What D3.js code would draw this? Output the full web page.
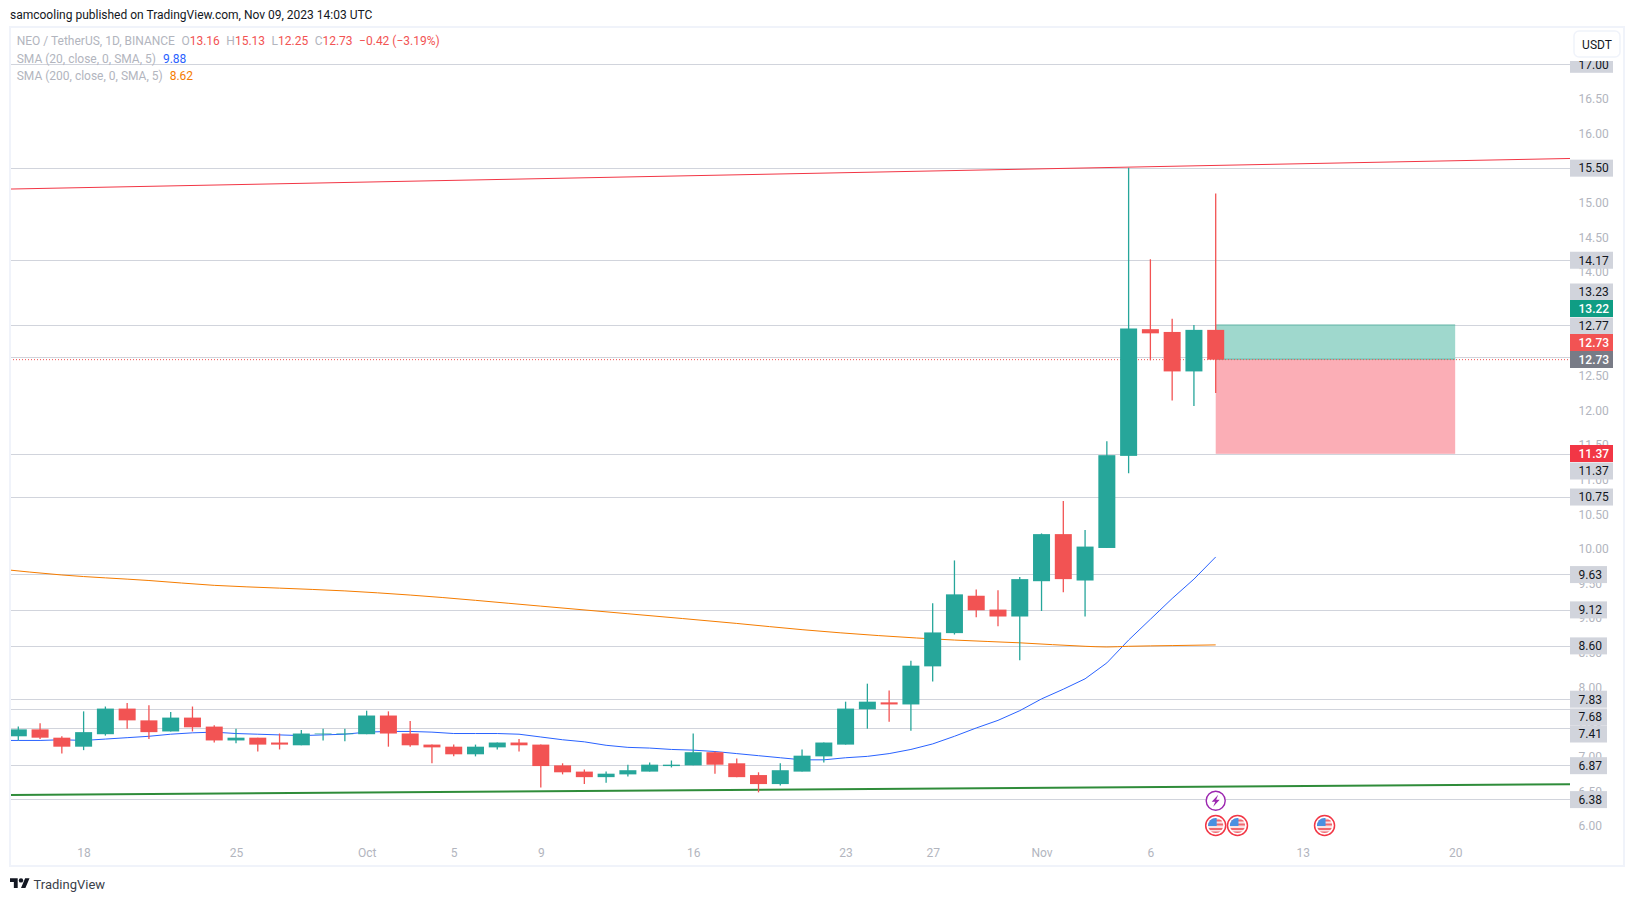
<!DOCTYPE html>
<html>
<head>
<meta charset="utf-8">
<script src="https://cdn.jsdelivr.net/npm/d3@7"></script>
<style>
    html, body { margin: 0; padding: 0; background: #fff; }
    svg { display: block; }
    text { font-family: Roboto, sans-serif; }
</style>
</head>
<body>
<div id="chart"></div>
<script>
// Daily candles, Sep 15 to Nov 9 2023
const opens = [7.29, 7.39, 7.27, 7.14, 7.32, 7.69, 7.52, 7.36, 7.56, 7.43, 7.23, 7.27, 7.20, 7.16, 7.32, 7.32, 7.32, 7.59, 7.33, 7.17, 7.14, 7.03, 7.13, 7.20, 7.17, 6.87, 6.78, 6.70, 6.74, 6.78, 6.86, 6.87, 7.06, 6.90, 6.73, 6.60, 6.78, 7.00, 7.17, 7.68, 7.78, 7.75, 8.30, 8.78, 9.32, 9.12, 9.02, 9.53, 10.21, 9.54, 10.01, 11.34, 13.17, 13.13, 12.56, 13.16];
const highs = [7.43, 7.48, 7.29, 7.65, 7.72, 7.77, 7.74, 7.64, 7.72, 7.45, 7.40, 7.27, 7.33, 7.38, 7.40, 7.40, 7.66, 7.65, 7.51, 7.17, 7.17, 7.17, 7.20, 7.25, 7.17, 6.90, 6.81, 6.78, 6.88, 6.91, 6.94, 7.33, 7.07, 6.97, 6.77, 6.90, 7.10, 7.20, 7.79, 8.05, 7.95, 8.38, 9.21, 9.83, 9.41, 9.40, 9.59, 10.22, 10.69, 10.27, 11.55, 15.50, 14.18, 13.32, 13.23, 15.13];
const lows = [7.23, 7.25, 7.04, 7.09, 7.30, 7.40, 7.25, 7.36, 7.36, 7.20, 7.19, 7.07, 7.10, 7.16, 7.23, 7.22, 7.32, 7.14, 7.14, 6.90, 7.00, 7.00, 7.10, 7.07, 6.55, 6.74, 6.60, 6.62, 6.71, 6.78, 6.84, 6.87, 6.75, 6.70, 6.48, 6.58, 6.78, 6.91, 7.17, 7.40, 7.50, 7.37, 8.08, 8.76, 9.01, 8.88, 8.39, 9.10, 9.37, 9.02, 10.01, 11.09, 12.72, 12.14, 12.06, 12.25];
const closes = [7.39, 7.27, 7.14, 7.35, 7.69, 7.52, 7.35, 7.56, 7.42, 7.23, 7.27, 7.17, 7.17, 7.33, 7.33, 7.33, 7.59, 7.33, 7.16, 7.13, 7.03, 7.14, 7.20, 7.16, 6.86, 6.77, 6.70, 6.75, 6.80, 6.88, 6.88, 7.06, 6.88, 6.70, 6.60, 6.80, 7.01, 7.20, 7.69, 7.79, 7.75, 8.31, 8.79, 9.34, 9.11, 9.02, 9.56, 10.21, 9.56, 10.03, 11.35, 13.18, 13.11, 12.56, 13.16, 12.73];

// SMA 20, daily from Sep 14
const sma20 = [7.23, 7.23, 7.23, 7.24, 7.23, 7.25, 7.27, 7.29, 7.32, 7.34, 7.35, 7.33, 7.32, 7.31, 7.30, 7.31, 7.32, 7.35, 7.36, 7.36, 7.35, 7.33, 7.33, 7.33, 7.32, 7.28, 7.24, 7.21, 7.16, 7.13, 7.12, 7.10, 7.09, 7.07, 7.04, 7.01, 6.98, 6.95, 6.95, 6.98, 7.00, 7.04, 7.10, 7.18, 7.29, 7.41, 7.52, 7.66, 7.83, 7.97, 8.12, 8.35, 8.68, 8.98, 9.28, 9.56, 9.88];

// SMA 200, read at these dates
const sma200Dates = ["2023-09-14", "2023-09-17", "2023-09-21", "2023-09-24", "2023-09-27", "2023-09-30", "2023-10-03", "2023-10-09", "2023-10-13", "2023-10-18", "2023-10-21", "2023-10-28", "2023-10-31", "2023-11-03", "2023-11-04", "2023-11-05", "2023-11-07", "2023-11-09"];
const sma200 = [9.71, 9.62, 9.54, 9.47, 9.43, 9.39, 9.33, 9.17, 9.06, 8.92, 8.83, 8.68, 8.64, 8.59, 8.58, 8.59, 8.60, 8.61];

// Trend lines
const trendDates = ["2023-09-14", "2023-11-26"];
const resistance = [15.19, 15.64];
const support = [6.44, 6.60];

// Horizontal lines
const levels = [17.00, 15.50, 14.17, 13.23, 12.77, 11.37, 10.75, 9.63, 9.12, 8.60, 7.83, 7.68, 7.41, 6.87, 6.38];

// Axis labels
const priceTicks = [6, 6.5, 7, 7.5, 8, 8.5, 9, 9.5, 10, 10.5, 11, 11.5, 12, 12.5, 13, 13.5, 14, 14.5, 15, 15.5, 16, 16.5, 17];
const dateTicks = ["2023-09-18", "2023-09-25", "2023-10-01", "2023-10-05", "2023-10-09", "2023-10-16", "2023-10-23", "2023-10-27", "2023-11-01", "2023-11-06", "2023-11-13", "2023-11-20"];
const dateLabels = ["18", "25", "Oct", "5", "9", "16", "23", "27", "Nov", "6", "13", "20"];

// Position tool
const positionDates = ["2023-11-09", "2023-11-20"];
const positionTarget = 13.23;
const positionEntry = 12.73;
const positionStop = 11.37;

// Events under the candles
const earningsDates = ["2023-11-09"];
const flagDates = ["2023-11-09", "2023-11-10", "2023-11-14"];

const parseDay = d3.utcParse("%Y-%m-%d");
const up = "#26a69a";
const down = "#f25353";
const gridColor = "#d1d4dc";
const mutedText = "#b2b5be";
const darkText = "#131722";
const fontFamily = "Roboto, sans-serif";

const svg = d3.select("#chart")
    .append("svg")
    .attr("width", 1634)
    .attr("height", 901)
    .style("font-size", "12px");

const x = d3.scaleUtc()
    .domain([parseDay("2023-09-15"), parseDay("2023-11-09")])
    .range([18.3, 1215.7]);

const y = d3.scaleLinear()
    .domain([6.38, 17])
    .range([799.3, 64]);

const plotRight = 1570;

svg.append("text")
    .attr("x", 10)
    .attr("y", 19)
    .attr("fill", darkText)
    .text("samcooling published on TradingView.com, Nov 09, 2023 14:03 UTC");

svg.append("clipPath").attr("id", "plot")
    .append("rect")
    .attr("x", 10).attr("y", 27)
    .attr("width", plotRight - 10).attr("height", 839);

const plot = svg.append("g").attr("clip-path", "url(#plot)");

// Grid
plot.selectAll(".level")
    .data(levels)
    .enter().append("line")
    .attr("class", "level")
    .attr("x1", 10)
    .attr("x2", plotRight)
    .attr("y1", d => Math.round(y(d)) + 0.5)
    .attr("y2", d => Math.round(y(d)) + 0.5)
    .attr("stroke", gridColor);

// Position tool
const posX0 = x(parseDay(positionDates[0]));
const posX1 = x(parseDay(positionDates[1]));
plot.append("rect")
    .attr("x", posX0).attr("y", y(positionTarget))
    .attr("width", posX1 - posX0).attr("height", y(positionEntry) - y(positionTarget))
    .attr("fill", "#9fd8cd");
plot.append("rect")
    .attr("x", posX0).attr("y", y(positionEntry))
    .attr("width", posX1 - posX0).attr("height", y(positionStop) - y(positionEntry))
    .attr("fill", "#fbaeb6");
plot.append("line")
    .attr("x1", posX0).attr("x2", posX1)
    .attr("y1", y(positionTarget)).attr("y2", y(positionTarget))
    .attr("stroke", "#5fb3a5");
plot.append("line")
    .attr("x1", posX0).attr("x2", posX1)
    .attr("y1", y(positionEntry) - 0.5).attr("y2", y(positionEntry) - 0.5)
    .attr("stroke", "#5fb3a5");

// Last price line
plot.append("line")
    .attr("x1", 10).attr("x2", plotRight)
    .attr("y1", y(12.73)).attr("y2", y(12.73))
    .attr("stroke", "#f25353")
    .attr("stroke-dasharray", "1 2");

// Trend lines
const trendLine = d3.line()
    .x((d, i) => x(parseDay(trendDates[i])))
    .y(d => y(d));

plot.append("path").datum(resistance)
    .attr("d", trendLine)
    .attr("fill", "none")
    .attr("stroke", "#f23645")
    .attr("stroke-width", 1);

plot.append("path").datum(support)
    .attr("d", trendLine)
    .attr("fill", "none")
    .attr("stroke", "#2f8c3a")
    .attr("stroke-width", 2);

// Moving averages
const sma20Line = d3.line()
    .x((d, i) => x(d3.utcDay.offset(parseDay("2023-09-14"), i)))
    .y(d => y(d));

plot.append("path").datum(sma20)
    .attr("d", sma20Line)
    .attr("fill", "none")
    .attr("stroke", "#2962ff")
    .attr("stroke-width", 1);

const sma200Line = d3.line()
    .x((d, i) => x(parseDay(sma200Dates[i])))
    .y(d => y(d))
    .curve(d3.curveMonotoneX);

plot.append("path").datum(sma200)
    .attr("d", sma200Line)
    .attr("fill", "none")
    .attr("stroke", "#f57c00")
    .attr("stroke-width", 1);

// Candles
const candles = plot.selectAll(".candle")
    .data(opens.map((o, i) => ({
        date: d3.utcDay.offset(parseDay("2023-09-15"), i),
        open: o, high: highs[i], low: lows[i], close: closes[i]
    })))
    .enter().append("g")
    .attr("class", "candle");

candles.append("line")
    .attr("x1", d => x(d.date))
    .attr("x2", d => x(d.date))
    .attr("y1", d => y(d.high))
    .attr("y2", d => y(d.low))
    .attr("stroke", d => d.close >= d.open ? up : down)
    .attr("stroke-width", 1.3);

candles.append("rect")
    .attr("x", d => x(d.date) - 8.5)
    .attr("width", 17)
    .attr("y", d => y(Math.max(d.open, d.close)))
    .attr("height", d => Math.abs(y(d.open) - y(d.close)))
    .attr("fill", d => d.close >= d.open ? up : down);

// Event badges
plot.selectAll(".earnings")
    .data(earningsDates)
    .enter().append("g")
    .attr("class", "earnings")
    .attr("transform", d => `translate(${x(parseDay(d))}, 800.8)`)
    .call(g => g.append("circle")
        .attr("r", 9.5)
        .attr("fill", "#fff")
        .attr("stroke", "#9c27b0")
        .attr("stroke-width", 1.4))
    .call(g => g.append("path")
        .attr("d", "M2.5 -6L-4 1H-0.5L-2.5 6L4 -1H0.5Z")
        .attr("fill", "#9c27b0"));

svg.append("clipPath").attr("id", "flag-clip")
    .append("circle")
    .attr("r", 7.6);

const flags = plot.selectAll(".flag")
    .data(flagDates)
    .enter().append("g")
    .attr("class", "flag")
    .attr("transform", d => `translate(${x(parseDay(d))}, 825.5)`);

flags.append("circle")
    .attr("r", 10)
    .attr("fill", "#fff")
    .attr("stroke", "#f23645")
    .attr("stroke-width", 1.5);

const flagInner = flags.append("g").attr("clip-path", "url(#flag-clip)");
flagInner.append("rect")
    .attr("x", -8).attr("y", -8).attr("width", 16).attr("height", 16)
    .attr("fill", "#fbe3e4");
flagInner.selectAll(".stripe")
    .data([-6, -2, 2.5, 6])
    .enter().append("rect")
    .attr("class", "stripe")
    .attr("x", -8).attr("width", 16)
    .attr("y", d => d).attr("height", 2)
    .attr("fill", "#f0686f");
flagInner.append("rect")
    .attr("x", -8).attr("y", -8).attr("width", 9).attr("height", 8.5)
    .attr("fill", "#4a90e2");

// Axes
const yAxis = d3.axisRight(y)
    .tickValues(priceTicks)
    .tickFormat(d3.format(".2f"))
    .tickSize(0)
    .tickPadding(8.5);

svg.append("g")
    .attr("class", "y-axis")
    .attr("transform", `translate(${plotRight}, 0)`)
    .call(yAxis)
    .call(g => g.select(".domain").remove())
    .call(g => g.selectAll("text")
        .attr("dy", "0.34em")
        .attr("fill", mutedText)
        .style("font-family", fontFamily)
        .style("font-size", "12px"));

const xAxis = d3.axisBottom(x)
    .tickValues(dateTicks.map(parseDay))
    .tickFormat((d, i) => dateLabels[i])
    .tickSize(0)
    .tickPadding(0);

svg.append("g")
    .attr("class", "x-axis")
    .attr("transform", "translate(0, 848)")
    .call(xAxis)
    .call(g => g.select(".domain").remove())
    .call(g => g.selectAll("text")
        .attr("fill", mutedText)
        .style("font-family", fontFamily)
        .style("font-size", "12px"));

// Price labels on the scale, shown stacked where they would overlap
const levelLabels = levels.map(d => ({ value: d, fill: "#d1d4dc", color: darkText, weight: 400 }));
const extraLabels = [
    { value: 13.22, fill: "#0f9d84", color: "#fff", weight: 500 },
    { value: 12.73, fill: "#f25353", color: "#fff", weight: 500 },
    { value: 12.73, fill: "#787b86", color: "#fff", weight: 500, grey: true },
    { value: 11.37, fill: "#f23645", color: "#fff", weight: 500 }
];
const labelCenter = d => {
    if (d.value === 13.23) return 292;
    if (d.value === 13.22) return 308.5;
    if (d.value === 12.77) return 326;
    if (d.value === 12.73) return d.grey ? 359.5 : 342.5;
    if (d.value === 11.37) return d.fill === "#f23645" ? 453.5 : 471;
    if (d.value === 7.68) return 717;
    if (d.value === 7.41) return 734;
    return y(d.value) + 0.3;
};

const labels = svg.selectAll(".price-label")
    .data(levelLabels.concat(extraLabels))
    .enter().append("g")
    .attr("class", "price-label")
    .attr("transform", d => `translate(${plotRight}, ${labelCenter(d)})`);

labels.append("rect")
    .attr("y", -8.5)
    .attr("height", 17)
    .attr("width", d => d.value >= 10 ? 43 : 37)
    .attr("fill", d => d.fill);

labels.append("text")
    .attr("x", 8.5)
    .attr("dy", "0.36em")
    .attr("fill", d => d.color)
    .attr("font-weight", d => d.weight)
    .text(d => d3.format(".2f")(d.value));

// Frame
svg.append("rect")
    .attr("x", 10).attr("y", 27)
    .attr("width", 1614).attr("height", 839)
    .attr("fill", "none")
    .attr("stroke", "#f0f3fa")
    .attr("stroke-width", 2);

// Currency button, it hides the top of the 17.00 label
svg.append("rect")
    .attr("x", 1570).attr("y", 29)
    .attr("width", 52).attr("height", 32)
    .attr("fill", "#fff");

svg.append("rect")
    .attr("x", 1574).attr("y", 31)
    .attr("width", 46).attr("height", 26)
    .attr("rx", 5)
    .attr("fill", "#fff")
    .attr("stroke", "#f0f3fa")
    .attr("stroke-width", 1.5);

svg.append("text")
    .attr("x", 1597).attr("y", 44.5)
    .attr("dy", "0.36em")
    .attr("text-anchor", "middle")
    .attr("fill", darkText)
    .text("USDT");

// Legend
const legendRows = [
    { y: 41.7, parts: [
        ["NEO / TetherUS, 1D, BINANCE", mutedText, 0], ["O", mutedText, 6.5], ["13.16", down, 0],
        ["H", mutedText, 6.5], ["15.13", down, 0], ["L", mutedText, 6.5], ["12.25", down, 0],
        ["C", mutedText, 6.5], ["12.73", down, 0], ["−0.42 (−3.19%)", down, 6.5]
    ] },
    { y: 59, parts: [["SMA (20, close, 0, SMA, 5)", mutedText, 0], ["9.88", "#2962ff", 7]] },
    { y: 76.3, parts: [["SMA (200, close, 0, SMA, 5)", mutedText, 0], ["8.62", "#f57c00", 7]] }
];

legendRows.forEach(row => {
    const t = svg.append("text")
        .attr("x", 16.7)
        .attr("y", row.y)
        .attr("dy", "0.3em");
    row.parts.forEach(p => {
        t.append("tspan").attr("fill", p[1]).attr("dx", p[2]).text(p[0]);
    });
});

// Footer logo
const logo = svg.append("g")
    .attr("transform", "translate(10, 876) scale(0.55)")
    .attr("fill", darkText);
logo.append("path").attr("d", "M14 22H7V11H0V4h14v18zM28 22h-8l7.5-18h8L28 22z");
logo.append("circle").attr("cx", 20).attr("cy", 8).attr("r", 4);

svg.append("text")
    .attr("x", 33.5)
    .attr("y", 884)
    .attr("dy", "0.36em")
    .attr("fill", "#3b3f4a")
    .style("font-size", "13px")
    .text("TradingView");
</script>
</body>
</html>
